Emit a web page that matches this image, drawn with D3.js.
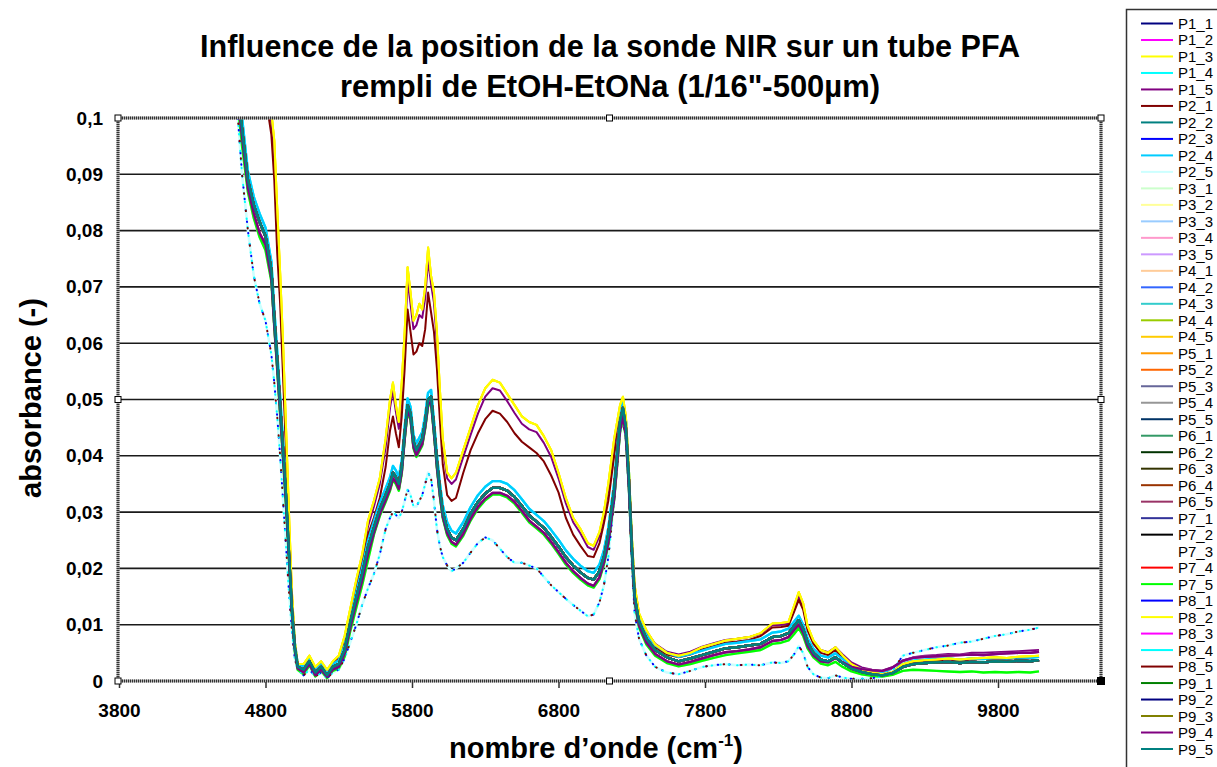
<!DOCTYPE html>
<html>
<head>
<meta charset="utf-8">
<script src="https://cdn.jsdelivr.net/npm/d3@7"></script>
<style>
  body { margin: 0; background: #fff; }
  svg { display: block; font-family: "Liberation Sans", Arial, sans-serif; }
</style>
</head>
<body>
<svg id="chart" width="1217" height="767"></svg>
<script>
// ---- Spectral data: absorbance (-) versus wavenumber (cm-1) ----
const wavenumbers = [
  4600, 4640, 4680, 4720, 4760, 4800, 4840, 4860, 4880, 4900, 4920, 4940, 4960, 4980, 5000, 5020,
  5060, 5100, 5140, 5180, 5220, 5260, 5300, 5340, 5380, 5420, 5460, 5500,
  5540, 5580, 5620, 5650, 5670, 5690, 5710, 5730, 5750, 5770, 5790, 5810, 5830, 5850, 5870, 5890, 5910, 5930, 5950, 5970, 5990, 6010, 6040, 6070, 6100,
  6150, 6200, 6250, 6300, 6350, 6400, 6450, 6500, 6550, 6600, 6650, 6700, 6750, 6800, 6850, 6900, 6950, 7000, 7040, 7080, 7110,
  7140, 7160, 7180, 7200, 7220, 7240, 7260, 7280, 7300, 7320, 7350, 7400,
  7460, 7540, 7620, 7700, 7780, 7860, 7940, 8020, 8100, 8180, 8260, 8320, 8370, 8410, 8440, 8470, 8500, 8540, 8590, 8640,
  8690, 8740, 8800, 8870, 8940, 9010, 9080, 9150, 9220, 9300, 9380, 9460, 9540, 9620, 9700, 9780, 9860, 9940, 10020, 10080
];

// Spectra of the bulk of the probe positions (centre of the band)
const absMain = [
  .108, .098, .089, .0845, .0815, .079, .073, .0645, .057, .049, .041, .033, .023, .013, .006, .0025,
  .002, .0035, .0015, .0025, .001, .0025, .003, .0055, .0105, .0148, .019, .0238,
  .0272, .0305, .033, .035, .037, .0362, .035, .038, .044, .049, .0475, .0425, .041, .042, .043, .046, .050, .0505, .045, .039, .034, .030, .027, .0255, .025,
  .027, .0297, .0318, .0333, .0343, .0343, .0338, .0327, .0311, .0294, .0283, .0272, .0256, .0239, .022, .0205, .0193, .0183, .018, .0195, .022,
  .026, .030, .034, .040, .046, .0485, .045, .036, .024, .015, .0105, .0075,
  .0055, .0042, .0035, .004, .0046, .0052, .0058, .006, .0063, .0066, .0078, .008, .0085, .0098, .0108, .0092, .0068, .005, .0038, .0035,
  .0042, .0032, .0022, .0016, .0012, .001, .0014, .0025, .003, .0032, .0033, .0034, .0032, .0034, .0033, .0035, .0034, .0036, .0035, .0037
];

// Upper edge of the main band
const absMainHigh = [
  .109, .1, .0905, .086, .083, .0805, .0745, .066, .0585, .0505, .0425, .0345, .0245, .0142, .0068, .003,
  .0025, .004, .002, .003, .0016, .003, .0037, .0063, .0115, .0158, .0202, .025,
  .0284, .0317, .0342, .0362, .0382, .0374, .0362, .0392, .0452, .0502, .0487, .0437, .0422, .0432, .0442, .0472, .0512, .0517, .0462, .0402, .0352, .0312, .0282, .0267, .0262,
  .0282, .0309, .033, .0345, .0355, .0355, .035, .0339, .0323, .0306, .0295, .0284, .0268, .0251, .0232, .0217, .0205, .0195, .0192, .0207, .0232,
  .0272, .0312, .0352, .0412, .0472, .0497, .0462, .0372, .0252, .016, .0113, .0082,
  .0063, .005, .0043, .0048, .0054, .006, .0066, .0068, .0071, .0074, .0086, .0088, .0093, .0106, .0116, .01, .0076, .0057, .0045, .0042,
  .0049, .0039, .0028, .0021, .0016, .0014, .0018, .003, .0036, .0038, .0039, .004, .0038, .004, .0039, .0041, .004, .0042, .0041, .0043
];

// Lower edge of the main band (rising baseline above 9000 cm-1)
const absMainLow = [
  .106, .0965, .0875, .083, .0795, .0775, .0715, .0632, .0558, .0478, .0398, .0318, .0222, .0124, .0056, .0022,
  .0015, .003, .001, .002, .0007, .002, .0025, .0048, .0096, .0138, .0178, .0225,
  .0263, .0296, .0321, .0341, .036, .0353, .0341, .0371, .0431, .0481, .0466, .0416, .0401, .0411, .0421, .0451, .0491, .0496, .0441, .0381, .0331, .0292, .0262, .0247, .0242,
  .0261, .0288, .0309, .0324, .0334, .0334, .0329, .0318, .0302, .0285, .0274, .0263, .0247, .0229, .021, .0195, .0183, .0173, .0169, .0184, .021,
  .0245, .0285, .0325, .0385, .0445, .047, .0435, .0348, .0232, .0142, .0098, .0068,
  .0048, .0035, .0029, .0034, .004, .0046, .0051, .0053, .0056, .006, .0071, .0073, .0078, .0091, .01, .0085, .0062, .0045, .0035, .0033,
  .0041, .0033, .0025, .0021, .0019, .0018, .0024, .0036, .0041, .0043, .0044, .0045, .0046, .0047, .0046, .0048, .0049, .005, .005, .0052
];

// Slightly weaker spectra (flat baseline above 9000 cm-1)
const absGreen = [
  .105, .095, .0868, .0822, .0788, .0765, .071, .0628, .0552, .0472, .0392, .031, .0215, .0118, .0052, .002,
  .0012, .0028, .0008, .0018, .0005, .0018, .0022, .0043, .009, .013, .017, .0215,
  .026, .0293, .0318, .0338, .0357, .035, .0338, .0368, .0428, .0478, .0463, .0413, .0398, .0408, .0418, .0448, .0488, .0493, .0438, .0378, .0328, .0289, .0259, .0244, .0239,
  .0258, .0285, .0306, .0321, .0331, .0331, .0326, .0315, .0299, .0282, .0271, .026, .0244, .0226, .0207, .0192, .018, .017, .0166, .0181, .0207,
  .0242, .0282, .0322, .0382, .0442, .0467, .0432, .0345, .0229, .0139, .0095, .0065,
  .0045, .0032, .0026, .003, .0036, .0041, .0046, .0049, .0052, .0055, .0066, .0068, .0072, .0084, .0094, .008, .0058, .0042, .0031, .0028,
  .0034, .0025, .0017, .0012, .0009, .0008, .0011, .0018, .002, .0019, .0018, .0017, .0016, .0017, .0015, .0016, .0015, .0016, .0015, .0017
];

// Strongest spectra (upper group)
const absUpper = [
  .16, .15, .14, .13, .12, .11, .101, .096, .084, .0725, .06, .045, .03, .016, .007, .003,
  .003, .0045, .0025, .0035, .002, .0035, .0045, .008, .013, .018, .0225, .0285,
  .032, .036, .043, .050, .053, .049, .046, .053, .062, .0735, .069, .064, .065, .067, .066, .070, .077, .072, .069, .062, .052, .043, .037, .036, .037,
  .041, .045, .049, .052, .0535, .053, .051, .049, .047, .046, .0455, .0435, .041, .037, .0325, .029, .027, .0245, .024, .0265, .030,
  .035, .039, .043, .046, .049, .0505, .047, .038, .026, .017, .012, .009,
  .0065, .005, .0045, .005, .006, .0066, .0072, .0075, .0078, .0085, .0102, .0103, .0105, .0135, .0158, .0138, .0098, .0072, .0055, .005,
  .006, .0045, .003, .002, .0015, .0012, .0016, .003, .0035, .0037, .0038, .004, .0038, .004, .0041, .0042, .0041, .0043, .0044, .0045
];

const absUpperB = [
  .158, .148, .138, .128, .118, .108, .099, .093, .082, .07, .057, .043, .028, .015, .0065, .003,
  .0028, .0042, .0022, .0032, .0018, .0032, .0042, .0075, .0125, .0172, .0218, .0275,
  .031, .035, .0415, .0485, .0515, .0478, .0448, .0515, .06, .071, .067, .0625, .0632, .065, .0645, .068, .0748, .0705, .0672, .0602, .0505, .0418, .036, .035, .0358,
  .0398, .0437, .0475, .0505, .052, .0516, .0497, .0476, .0457, .0447, .0442, .0423, .0398, .036, .0316, .0282, .0262, .0238, .0233, .0258, .0292,
  .034, .038, .042, .045, .048, .0495, .046, .0372, .0255, .0166, .0118, .0088,
  .0066, .0052, .0047, .0052, .0061, .0067, .0073, .0075, .0078, .0084, .0099, .01, .0102, .013, .015, .0132, .0094, .007, .0055, .0051,
  .006, .0047, .0033, .0024, .002, .0017, .0022, .0036, .0042, .0045, .0046, .0048, .0047, .005, .005, .0051, .0052, .0053, .0054, .0055
];

const absUpperC = [
  .14, .13, .12, .112, .106, .104, .097, .089, .076, .067, .054, .041, .027, .015, .0065, .003,
  .0025, .004, .002, .003, .0017, .003, .004, .007, .0118, .0162, .0205, .026,
  .029, .0325, .038, .0445, .047, .044, .0415, .047, .0555, .066, .062, .058, .0585, .060, .0595, .0625, .069, .0655, .062, .0555, .0465, .0385, .033, .032, .0325,
  .037, .041, .044, .0465, .048, .0475, .046, .044, .0425, .0415, .0405, .039, .0365, .0335, .029, .026, .024, .0222, .022, .0245, .028,
  .032, .036, .040, .0435, .047, .0485, .045, .0365, .025, .0162, .0115, .0085,
  .006, .0047, .0042, .0047, .0056, .0062, .0068, .007, .0073, .008, .0095, .0096, .0098, .0124, .0144, .0127, .009, .0066, .005, .0046,
  .0055, .0041, .0028, .002, .0015, .0012, .0016, .0028, .0033, .0035, .0036, .0038, .0036, .0038, .0039, .004, .0039, .0041, .0042, .0043
];

// Weakest spectra (lower group, drifting baseline at high wavenumber)
const absLow = [
  .104, .09, .08, .072, .067, .064, .058, .053, .047, .04, .032, .024, .016, .009, .004, .002,
  .001, .002, .0008, .0015, .0005, .0015, .002, .004, .007, .010, .0135, .0165,
  .019, .0225, .027, .029, .030, .0295, .029, .030, .032, .034, .033, .031, .031, .032, .033, .035, .037, .036, .032, .027, .024, .022, .0205, .0195, .020,
  .021, .0228, .0245, .0255, .025, .0235, .022, .021, .021, .0205, .020, .0185, .017, .0158, .0146, .0135, .0125, .0115, .0118, .014, .017,
  .022, .027, .032, .038, .044, .0465, .043, .034, .021, .012, .0075, .0045,
  .0025, .0015, .0012, .0018, .0025, .0028, .003, .0028, .0029, .0028, .0033, .0032, .0035, .0048, .0062, .005, .0025, .0012, .0006, .0005,
  .001, .0006, .0004, .0004, .0005, .0008, .0018, .0045, .005, .0055, .006, .0063, .0068, .007, .0075, .008, .0083, .0088, .0091, .0095
];

const seriesNames = [
  "P1_1", "P1_2", "P1_3", "P1_4", "P1_5", "P2_1", "P2_2", "P2_3", "P2_4", "P2_5",
  "P3_1", "P3_2", "P3_3", "P3_4", "P3_5", "P4_1", "P4_2", "P4_3", "P4_4", "P4_5",
  "P5_1", "P5_2", "P5_3", "P5_4", "P5_5", "P6_1", "P6_2", "P6_3", "P6_4", "P6_5",
  "P7_1", "P7_2", "P7_3", "P7_4", "P7_5", "P8_1", "P8_2", "P8_3", "P8_4", "P8_5",
  "P9_1", "P9_2", "P9_3", "P9_4", "P9_5"
];

// Which spectrum each probe position gave
const seriesSpectrum = [
  "main", "main", "upper", "mainHigh", "upperB", "upperC", "main", "main", "mainHigh", "low",
  "green", "main", "main", "main", "mainLow", "main", "main", "main", "main", "upper",
  "main", "main", "main", "main", "main", "main", "main", "main", "main", "mainLow",
  "main", "main", "main", "main", "green", "low", "upper", "main", "low", "low",
  "main", "main", "main", "mainLow", "main"
];

const spectra = {
  main: absMain, mainHigh: absMainHigh, mainLow: absMainLow, green: absGreen,
  upper: absUpper, upperB: absUpperB, upperC: absUpperC, low: absLow
};

const seriesColors = [
  "#000080", "#FF00FF", "#FFFF00", "#00FFFF", "#800080", "#800000", "#008080", "#0000FF", "#00CCFF", "#CCFFFF",
  "#CCFFCC", "#FFFF99", "#99CCFF", "#FF99CC", "#CC99FF", "#FFCC99", "#3366FF", "#33CCCC", "#99CC00", "#FFCC00",
  "#FF9900", "#FF6600", "#666699", "#969696", "#003366", "#339966", "#003300", "#333300", "#993300", "#993366",
  "#333399", "#000000", "#FFFFFF", "#FF0000", "#00FF00", "#0000FF", "#FFFF00", "#FF00FF", "#00FFFF", "#800000",
  "#008000", "#000080", "#808000", "#800080", "#008080"
];

const xTickValues = [3800, 4800, 5800, 6800, 7800, 8800, 9800];
const yTickValues = [0, 0.01, 0.02, 0.03, 0.04, 0.05, 0.06, 0.07, 0.08, 0.09, 0.1];

// ---- Layout ----
const svg = d3.select("#chart");
const plot = { left: 118, right: 1101, top: 118, bottom: 681 };

const x = d3.scaleLinear().domain([3800, 9800]).range([119, 998]);
const y = d3.scaleLinear().domain([0, 0.1]).range([plot.bottom, plot.top]);

// Horizontal gridlines
svg.append("g")
  .selectAll("line")
  .data(yTickValues.filter(v => v > 0 && v < 0.1))
  .join("line")
  .attr("x1", plot.left).attr("x2", plot.right)
  .attr("y1", d => y(d)).attr("y2", d => y(d))
  .attr("stroke", "#1a1a1a").attr("stroke-width", 1.6);

// Spectra, clipped to the plot area
svg.append("clipPath").attr("id", "plot-clip")
  .append("rect")
  .attr("x", plot.left).attr("y", plot.top)
  .attr("width", plot.right - plot.left).attr("height", plot.bottom - plot.top);

const line = d3.line()
  .x((d, i) => x(wavenumbers[i]))
  .y(d => y(d));

// Sparse dotted rendering for three positions of the lower group
const dotPattern = { P8_1: ["0.5 11", 0], P8_4: ["0.5 8", 4], P8_5: ["0.5 17", 7] };

const gLines = svg.append("g").attr("clip-path", "url(#plot-clip)");
seriesNames.forEach((name, i) => {
  const profile = seriesSpectrum[i];
  const path = gLines.append("path")
    .attr("d", line(spectra[profile]))
    .attr("fill", "none")
    .attr("stroke", seriesColors[i])
    .attr("stroke-linejoin", "round");
  if (dotPattern[name]) {
    path.attr("stroke-width", 2)
      .attr("stroke-dasharray", dotPattern[name][0])
      .attr("stroke-dashoffset", dotPattern[name][1])
      .attr("stroke-linecap", "round");
  } else if (profile === "low") {
    path.attr("stroke-width", 2.6);
  } else if (profile.startsWith("main") || profile === "green") {
    path.attr("stroke-width", 2.4);
  } else {
    path.attr("stroke-width", 2);
  }
});

// Plot area frame (dotted)
const frame = [
  [plot.left, plot.top, plot.right, plot.top],
  [plot.right, plot.top, plot.right, plot.bottom],
  [plot.left, plot.bottom, plot.right, plot.bottom],
  [plot.left, plot.top, plot.left, plot.bottom]
];
const gFrame = svg.append("g");
gFrame.selectAll("line.under").data(frame).join("line")
  .attr("class", "under")
  .attr("x1", d => d[0]).attr("y1", d => d[1]).attr("x2", d => d[2]).attr("y2", d => d[3])
  .attr("stroke", "#b0b0b0").attr("stroke-width", 3);
gFrame.selectAll("line.over").data(frame).join("line")
  .attr("class", "over")
  .attr("x1", d => d[0]).attr("y1", d => d[1]).attr("x2", d => d[2]).attr("y2", d => d[3])
  .attr("stroke", "#333").attr("stroke-width", 3).attr("stroke-dasharray", "1 1");

// Axes
const tickFont = "bold 19px 'Liberation Sans', Arial, sans-serif";

const xAxis = d3.axisBottom(x)
  .tickValues(xTickValues)
  .tickFormat(d3.format("d"))
  .tickSizeInner(6).tickSizeOuter(0).tickPadding(16);
const gx = svg.append("g").attr("transform", `translate(0,${plot.bottom + 1})`).call(xAxis);
gx.select(".domain").remove();
gx.selectAll(".tick line").attr("stroke", "#333").attr("stroke-width", 1.5);
gx.selectAll(".tick text").style("font", tickFont).attr("fill", "#000");

const yAxis = d3.axisLeft(y)
  .tickValues(yTickValues)
  .tickFormat(d => d === 0 ? "0" : d3.format(".2~f")(d).replace(".", ","))
  .tickSize(0).tickPadding(15);
const gy = svg.append("g").attr("transform", `translate(${plot.left},0)`).call(yAxis);
gy.select(".domain").remove();
gy.selectAll(".tick text").style("font", tickFont).attr("fill", "#000");

// Plot area handles
const midX = (plot.left + plot.right) / 2, midY = (plot.top + plot.bottom) / 2;
const handles = [
  [plot.left, plot.top], [midX, plot.top], [plot.right, plot.top],
  [plot.left, midY], [plot.right, midY],
  [plot.left, plot.bottom], [midX, plot.bottom]
];
svg.append("g").selectAll("rect").data(handles).join("rect")
  .attr("x", d => d[0] - 3).attr("y", d => d[1] - 3)
  .attr("width", 6).attr("height", 6)
  .attr("fill", "#fff").attr("stroke", "#000").attr("stroke-width", 1);
svg.append("rect")
  .attr("x", plot.right - 4).attr("y", plot.bottom - 4)
  .attr("width", 8).attr("height", 8).attr("fill", "#000");

// Title
const titleFont = "'Liberation Sans Narrow', 'Arial Narrow', 'Liberation Sans', Arial, sans-serif";
const title = svg.append("g")
  .attr("font-family", titleFont).attr("font-weight", "bold").attr("font-size", 31)
  .attr("text-anchor", "middle").attr("fill", "#000");
title.append("text").attr("x", 610).attr("y", 57)
  .attr("textLength", 820).attr("lengthAdjust", "spacingAndGlyphs")
  .text("Influence de la position de la sonde NIR sur un tube PFA");
title.append("text").attr("x", 610).attr("y", 97)
  .attr("textLength", 540).attr("lengthAdjust", "spacingAndGlyphs")
  .text("rempli de EtOH-EtONa (1/16\"-500µm)");

// Axis titles
svg.append("text")
  .attr("transform", "translate(41,398) rotate(-90)")
  .attr("text-anchor", "middle")
  .attr("font-weight", "bold").attr("font-size", 29)
  .text("absorbance (-)");

const xTitle = svg.append("text")
  .attr("x", 596).attr("y", 758)
  .attr("text-anchor", "middle")
  .attr("font-weight", "bold").attr("font-size", 29);
xTitle.append("tspan").text("nombre d\u2019onde (cm");
xTitle.append("tspan").attr("dy", -12).attr("font-size", 17).text("-1");
xTitle.append("tspan").attr("dy", 12).text(")");

// Legend
const legendY = d3.scalePoint().domain(seriesNames).range([23.5, 749]);
svg.append("rect")
  .attr("x", 1126.5).attr("y", 9.5).attr("width", 200).attr("height", 800)
  .attr("fill", "#fff").attr("stroke", "#333").attr("stroke-width", 1.5);
const legend = svg.append("g").selectAll("g").data(seriesNames).join("g")
  .attr("transform", d => `translate(0,${legendY(d)})`);
legend.append("line")
  .attr("x1", 1141).attr("x2", 1173)
  .attr("stroke", (d, i) => seriesColors[i]).attr("stroke-width", 2);
legend.append("text")
  .attr("x", 1178).attr("y", 5.5)
  .attr("font-size", 15).attr("fill", "#000")
  .text(d => d);
</script>
</body>
</html>
